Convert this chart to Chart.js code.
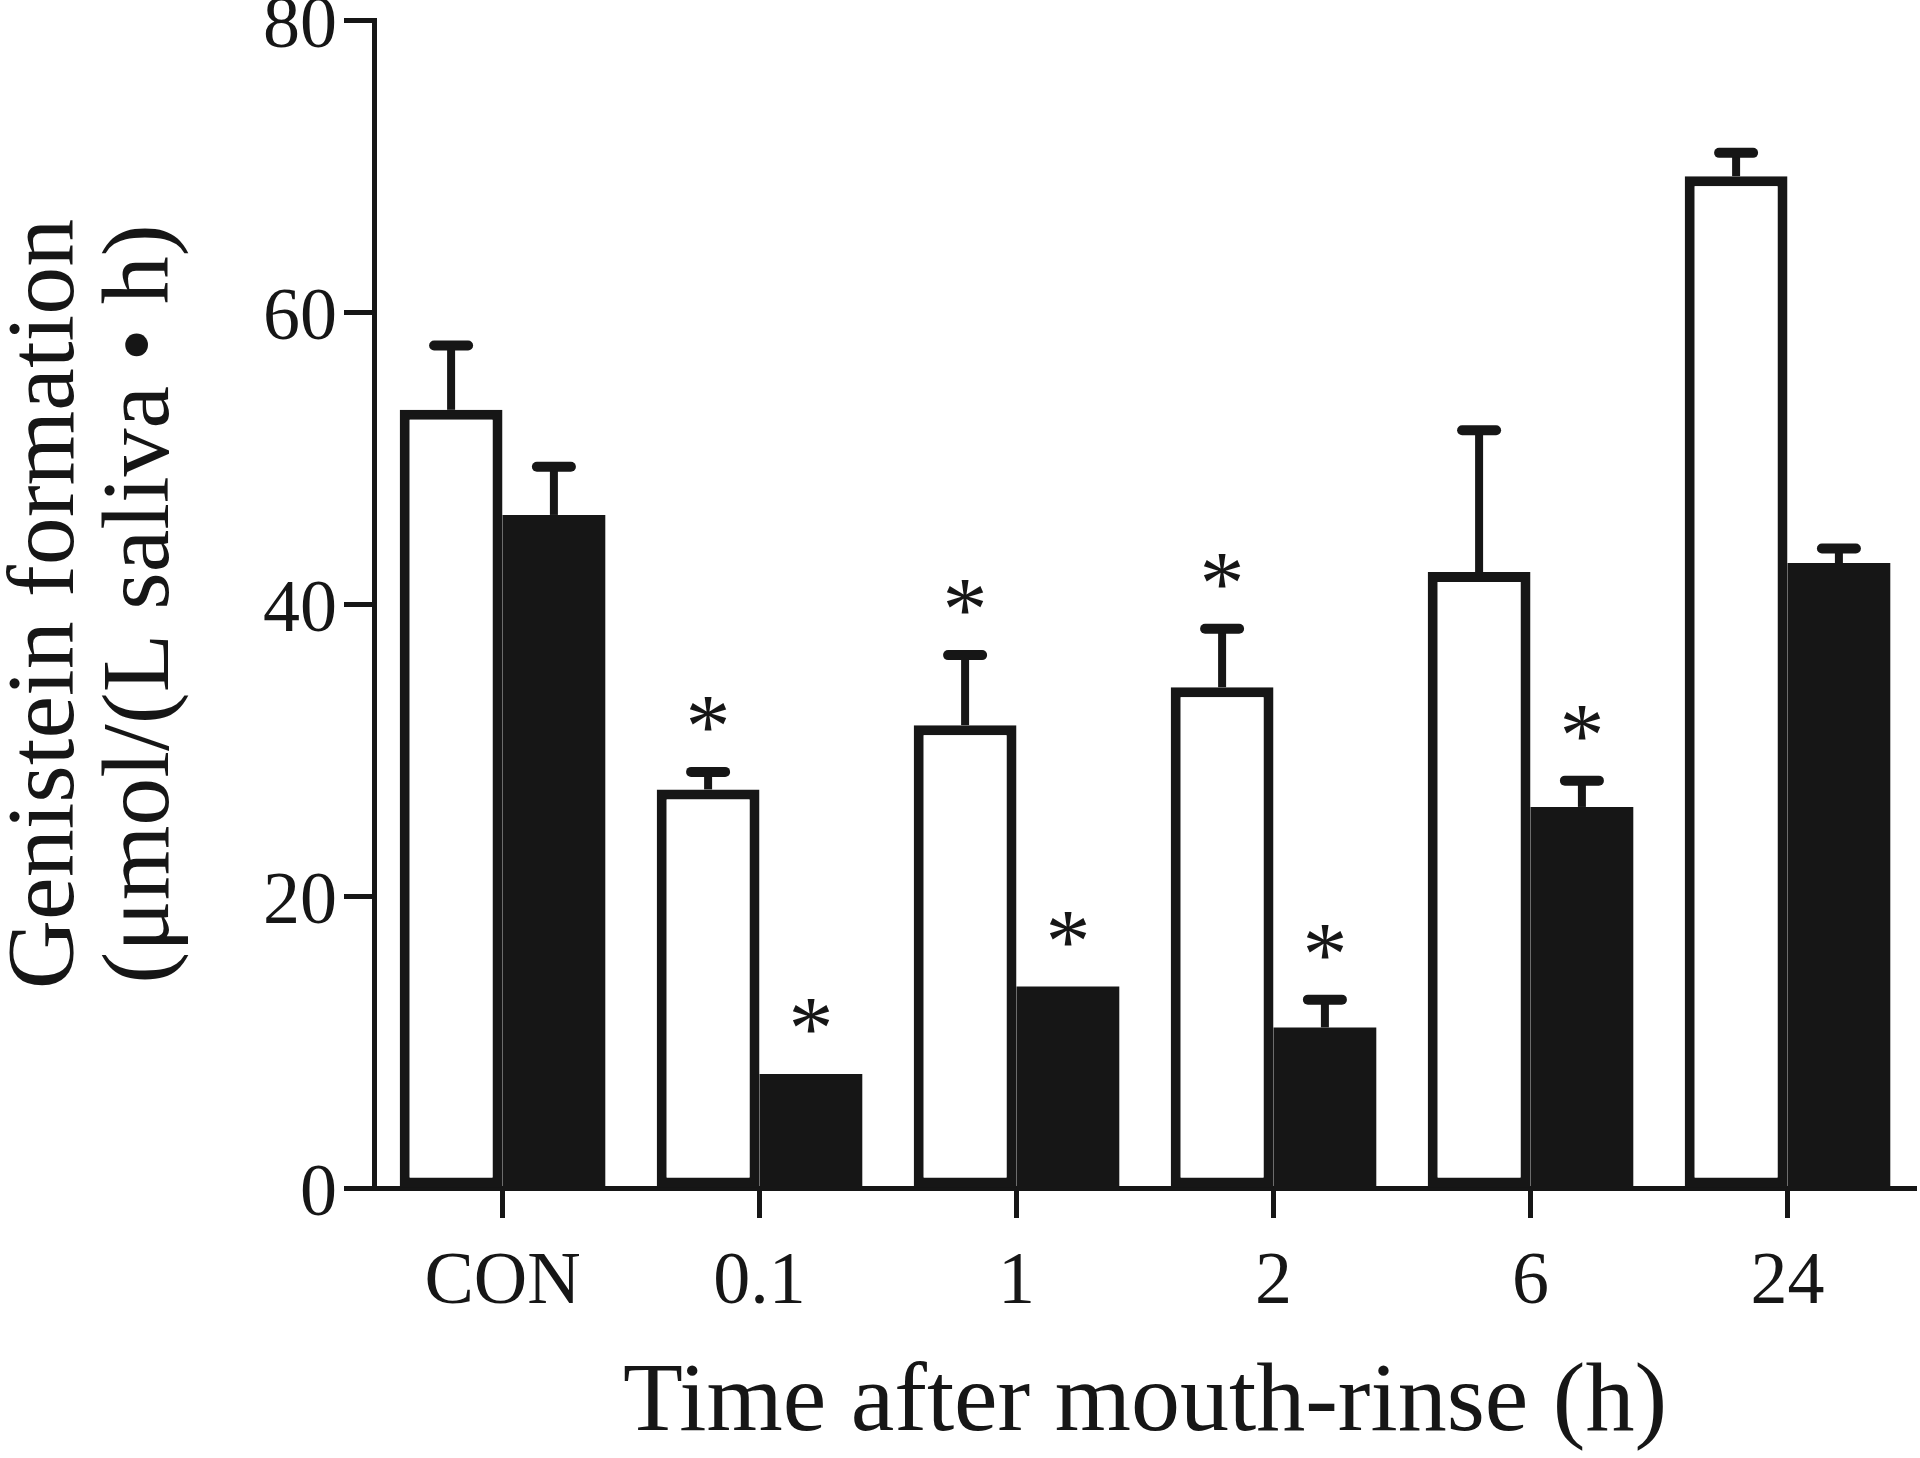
<!DOCTYPE html>
<html>
<head>
<meta charset="utf-8">
<script src="https://cdn.jsdelivr.net/npm/chart.js@4.4.0/dist/chart.umd.min.js"></script>
<style>
  html, body { margin: 0; padding: 0; background: #fff; }
  canvas { display: block; }
</style>
</head>
<body>
<canvas id="chart" width="1920" height="1458"></canvas>
<script>
// datos
const categories = ['CON', '0.1', '1', '2', '6', '24'];
const openMeans = [53.3, 27.3, 31.7, 34.3, 42.2, 69.3];
const openUpper = [57.7, 28.5, 36.5, 38.3, 51.9, 70.9];
const filledMeans = [46.1, 7.8, 13.8, 11.0, 26.1, 42.8];
const filledUpper = [49.4, null, null, 12.9, 27.9, 43.8];
const openSig = [false, true, true, true, false, false];
const filledSig = [false, true, true, true, true, false];
const yTicks = [0, 20, 40, 60, 80];

const INK = '#161616';
const SERIF = '"Liberation Serif", "Times New Roman", serif';

// barras de error (solo hacia arriba) y asteriscos
const errorBars = {
    id: 'errorBars',
    afterDatasetsDraw(chart) {
        const ctx = chart.ctx;
        const y = chart.scales.y;
        chart.data.datasets.forEach((ds, i) => {
            const meta = chart.getDatasetMeta(i);
            meta.data.forEach((bar, j) => {
                const top = y.getPixelForValue(ds.data[j]);
                let mark = top;
                const up = ds.upper[j];
                ctx.save();
                ctx.strokeStyle = INK;
                ctx.fillStyle = INK;
                if (up != null) {
                    const yUp = y.getPixelForValue(up);
                    ctx.lineWidth = 8;
                    ctx.beginPath();
                    ctx.moveTo(bar.x, top);
                    ctx.lineTo(bar.x, yUp);
                    ctx.stroke();
                    ctx.lineWidth = 10;
                    ctx.lineCap = 'round';
                    ctx.beginPath();
                    ctx.moveTo(bar.x - 17, yUp);
                    ctx.lineTo(bar.x + 17, yUp);
                    ctx.stroke();
                    mark = yUp;
                }
                if (ds.sig[j]) {
                    ctx.font = '90px ' + SERIF;
                    ctx.textAlign = 'center';
                    ctx.textBaseline = 'alphabetic';
                    const m = ctx.measureText('*');
                    const cy = mark - 58;
                    ctx.fillText('*', bar.x, cy + (m.actualBoundingBoxAscent - m.actualBoundingBoxDescent) / 2);
                }
                ctx.restore();
            });
        });
    }
};

const ctx = document.getElementById('chart').getContext('2d');
new Chart(ctx, {
    type: 'bar',
    data: {
        labels: categories,
        datasets: [{
            data: openMeans,
            upper: openUpper,
            sig: openSig,
            backgroundColor: '#ffffff',
            borderColor: INK,
            borderWidth: 10,
            borderSkipped: false
        }, {
            data: filledMeans,
            upper: filledUpper,
            sig: filledSig,
            backgroundColor: INK,
            borderWidth: 0
        }]
    },
    options: {
        responsive: false,
        animation: false,
        barPercentage: 1,
        categoryPercentage: 0.8,
        layout: { autoPadding: false, padding: { top: 20, right: 4, left: 0, bottom: 0 } },
        plugins: { legend: { display: false }, tooltip: { enabled: false } },
        scales: {
            x: {
                offset: true,
                grid: { drawOnChartArea: false, offset: false, tickLength: 30, tickWidth: 5, tickColor: INK },
                border: { color: INK, width: 5 },
                ticks: { color: INK, font: { family: SERIF, size: 74 }, padding: 21, maxRotation: 0 },
                title: {
                    display: true,
                    text: 'Time after mouth-rinse (h)',
                    color: INK,
                    font: { family: SERIF, size: 98, lineHeight: 1 },
                    padding: { top: 0, bottom: 5 }
                },
                afterFit(s) { s.height = 270; s.paddingLeft = 0; s.paddingRight = 0; }
            },
            y: {
                min: 0,
                max: 80,
                afterBuildTicks(s) { s.ticks = yTicks.map(v => ({ value: v })); },
                grid: { drawOnChartArea: false, tickLength: 30, tickWidth: 5, tickColor: INK },
                border: { color: INK, width: 5 },
                ticks: { color: INK, font: { family: SERIF, size: 74 }, padding: 7, labelOffset: 8 },
                title: {
                    display: true,
                    text: ['Genistein formation', '(\u03bcmol/(L saliva \u2022 h)'],
                    color: INK,
                    font: { family: SERIF, size: 96, lineHeight: 0.99 },
                    padding: { top: 0, bottom: 0 }
                },
                afterFit(s) { s.width = 374; s.paddingTop = 0; s.paddingBottom = 0; }
            }
        }
    },
    plugins: [errorBars]
});
</script>
</body>
</html>
